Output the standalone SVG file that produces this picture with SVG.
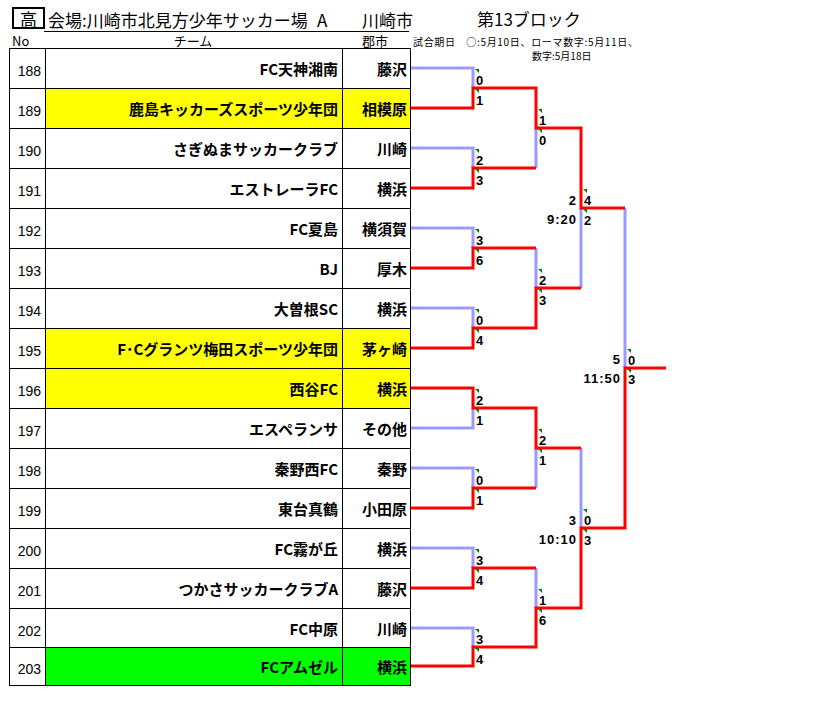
<svg xmlns="http://www.w3.org/2000/svg" xmlns:xlink="http://www.w3.org/1999/xlink" width="819" height="723" viewBox="0 0 819 723">
<style>
.jp{font-family:"Noto Sans CJK JP","Liberation Sans",sans-serif;fill:#000}
.hd{font-size:17px}
.sm{font-size:13px}
.tiny{font-size:10px}
.team{font-size:15px;font-weight:bold;text-anchor:end}
.no{font-family:"Liberation Sans",sans-serif;font-size:14px;text-anchor:end;fill:#000}
.sc{font-family:"Liberation Sans",sans-serif;font-size:13px;font-weight:bold;fill:#000}
.lb{font-family:"Liberation Sans",sans-serif;font-size:13px;font-weight:bold;text-anchor:end;letter-spacing:1px;fill:#000}
.r{stroke:#ff0000;stroke-width:3;fill:none}
.b{stroke:#9999ff;stroke-width:3;fill:none}
.g{stroke:#000;stroke-width:1;fill:none}
.y{fill:#ffff00}
.gr{fill:#00ff00}
.tri{fill:#008000}
</style>
<defs>
<polygon id="tri" points="0,0 4,0 4,4"/>
</defs>
<rect width="819" height="723" fill="#fff"/>

<g id="header">
<rect x="13" y="8" width="31" height="20" fill="none" stroke="#000" stroke-width="2"/>
<text class="jp hd" x="28.5" y="25.5" text-anchor="middle">高</text>
<text class="jp hd" x="48" y="26.5">会場:川崎市北見方少年サッカー場</text>
<text class="jp hd" x="317" y="26.5">A</text>
<text class="jp hd" x="362" y="26.5">川崎市</text>
<line x1="44" y1="31.5" x2="409" y2="31.5" stroke="#000" stroke-width="1"/>
<text class="jp hd" x="477" y="26">第13ブロック</text>
<text class="jp sm" x="12" y="46">No</text>
<text class="jp sm" x="193" y="46" text-anchor="middle">チーム</text>
<text class="jp sm" x="362" y="46">郡市</text>
<text class="jp tiny" x="413" y="45.5" textLength="225" lengthAdjust="spacing">試合期日　○:5月10日、ローマ数字:5月11日、</text>
<text class="jp tiny" x="532" y="59.5">数字:5月18日</text>
</g>

<g id="team-188"><text class="no" x="41" y="76">188</text><text class="jp team" x="338" y="75">FC天神湘南</text><text class="jp team" x="407" y="75">藤沢</text></g>
<g id="team-189"><rect class="y" x="45.5" y="88.5" width="365" height="40"/><text class="no" x="41" y="116">189</text><text class="jp team" x="338" y="115">鹿島キッカーズスポーツ少年団</text><text class="jp team" x="407" y="115">相模原</text></g>
<g id="team-190"><text class="no" x="41" y="156">190</text><text class="jp team" x="338" y="155">さぎぬまサッカークラブ</text><text class="jp team" x="407" y="155">川崎</text></g>
<g id="team-191"><text class="no" x="41" y="196">191</text><text class="jp team" x="338" y="195">エストレーラFC</text><text class="jp team" x="407" y="195">横浜</text></g>
<g id="team-192"><text class="no" x="41" y="236">192</text><text class="jp team" x="338" y="235">FC夏島</text><text class="jp team" x="407" y="235">横須賀</text></g>
<g id="team-193"><text class="no" x="41" y="276">193</text><text class="jp team" x="338" y="275">BJ</text><text class="jp team" x="407" y="275">厚木</text></g>
<g id="team-194"><text class="no" x="41" y="316">194</text><text class="jp team" x="338" y="315">大曽根SC</text><text class="jp team" x="407" y="315">横浜</text></g>
<g id="team-195"><rect class="y" x="45.5" y="328.5" width="365" height="40"/><text class="no" x="41" y="356">195</text><text class="jp team" x="338" y="355">F･Cグランツ梅田スポーツ少年団</text><text class="jp team" x="407" y="355">茅ヶ崎</text></g>
<g id="team-196"><rect class="y" x="45.5" y="368.5" width="365" height="40"/><text class="no" x="41" y="396">196</text><text class="jp team" x="338" y="395">西谷FC</text><text class="jp team" x="407" y="395">横浜</text></g>
<g id="team-197"><text class="no" x="41" y="436">197</text><text class="jp team" x="338" y="435">エスペランサ</text><text class="jp team" x="407" y="435">その他</text></g>
<g id="team-198"><text class="no" x="41" y="476">198</text><text class="jp team" x="338" y="475">秦野西FC</text><text class="jp team" x="407" y="475">秦野</text></g>
<g id="team-199"><text class="no" x="41" y="516">199</text><text class="jp team" x="338" y="515">東台真鶴</text><text class="jp team" x="407" y="515">小田原</text></g>
<g id="team-200"><text class="no" x="41" y="556">200</text><text class="jp team" x="338" y="555">FC霧が丘</text><text class="jp team" x="407" y="555">横浜</text></g>
<g id="team-201"><text class="no" x="41" y="596">201</text><text class="jp team" x="338" y="595">つかさサッカークラブA</text><text class="jp team" x="407" y="595">藤沢</text></g>
<g id="team-202"><text class="no" x="41" y="636">202</text><text class="jp team" x="338" y="635">FC中原</text><text class="jp team" x="407" y="635">川崎</text></g>
<g id="team-203"><rect class="gr" x="45.5" y="647.5" width="365" height="38"/><text class="no" x="41" y="674">203</text><text class="jp team" x="338" y="673">FCアムゼル</text><text class="jp team" x="407" y="673">横浜</text></g>

<g id="table-grid" class="g">
<rect x="9.5" y="48.5" width="401" height="637"/>
<path d="M45.5,48.5V685.5M342.5,48.5V685.5"/>
<path d="M9.5,88.5H410.5M9.5,128.5H410.5M9.5,168.5H410.5M9.5,208.5H410.5M9.5,248.5H410.5M9.5,288.5H410.5M9.5,328.5H410.5M9.5,368.5H410.5M9.5,408.5H410.5M9.5,448.5H410.5M9.5,488.5H410.5M9.5,528.5H410.5M9.5,568.5H410.5M9.5,608.5H410.5M9.5,647.5H410.5"/>
</g>

<g id="connectors">
<g id="losers" class="b">
<path d="M411,68H473V88"/>
<path d="M411,148H473V168"/>
<path d="M411,228H473V248"/>
<path d="M411,308H473V328"/>
<path d="M411,428H473V408"/>
<path d="M411,468H473V488"/>
<path d="M411,548H473V568"/>
<path d="M411,628H473V647"/>
<path d="M536,168V128"/>
<path d="M536,248V288"/>
<path d="M536,488V448"/>
<path d="M536,568V608"/>
<path d="M581,288V208"/>
<path d="M581,448V528"/>
<path d="M625,208V368"/>
</g>
<g id="winners" class="r">
<path d="M411,108H473V88H536V128H581V208H625"/>
<path d="M411,188H473V168H536"/>
<path d="M411,268H473V248H536"/>
<path d="M411,348H473V328H536V288H581"/>
<path d="M411,388H473V408H536V448H581"/>
<path d="M411,508H473V488H536"/>
<path d="M411,588H473V568H536"/>
<path d="M411,666H473V647H536V608H581V528H625V368H666"/>
</g>
<g id="markers" class="tri">
<use xlink:href="#tri" x="475" y="69"/><use xlink:href="#tri" x="475" y="89"/>
<use xlink:href="#tri" x="475" y="149"/><use xlink:href="#tri" x="475" y="169"/>
<use xlink:href="#tri" x="475" y="229"/><use xlink:href="#tri" x="475" y="249"/>
<use xlink:href="#tri" x="475" y="309"/><use xlink:href="#tri" x="475" y="329"/>
<use xlink:href="#tri" x="475" y="389"/><use xlink:href="#tri" x="475" y="409"/>
<use xlink:href="#tri" x="475" y="469"/><use xlink:href="#tri" x="475" y="489"/>
<use xlink:href="#tri" x="475" y="549"/><use xlink:href="#tri" x="475" y="569"/>
<use xlink:href="#tri" x="475" y="629"/><use xlink:href="#tri" x="475" y="648"/>
<use xlink:href="#tri" x="538" y="109"/><use xlink:href="#tri" x="538" y="129"/>
<use xlink:href="#tri" x="538" y="269"/><use xlink:href="#tri" x="538" y="289"/>
<use xlink:href="#tri" x="538" y="429"/><use xlink:href="#tri" x="538" y="449"/>
<use xlink:href="#tri" x="538" y="589"/><use xlink:href="#tri" x="538" y="609"/>
<use xlink:href="#tri" x="583" y="189"/><use xlink:href="#tri" x="583" y="209"/>
<use xlink:href="#tri" x="583" y="509"/><use xlink:href="#tri" x="583" y="529"/>
<use xlink:href="#tri" x="627" y="349"/><use xlink:href="#tri" x="627" y="369"/>
</g>
</g>

<g id="scores">
<text class="sc" x="476" y="85">0</text><text class="sc" x="476" y="104.5">1</text>
<text class="sc" x="476" y="165">2</text><text class="sc" x="476" y="184.5">3</text>
<text class="sc" x="476" y="245">3</text><text class="sc" x="476" y="264.5">6</text>
<text class="sc" x="476" y="325">0</text><text class="sc" x="476" y="344.5">4</text>
<text class="sc" x="476" y="405">2</text><text class="sc" x="476" y="424.5">1</text>
<text class="sc" x="476" y="485">0</text><text class="sc" x="476" y="504.5">1</text>
<text class="sc" x="476" y="565">3</text><text class="sc" x="476" y="584.5">4</text>
<text class="sc" x="476" y="644">3</text><text class="sc" x="476" y="663.5">4</text>
<text class="sc" x="539" y="125">1</text><text class="sc" x="539" y="144.5">0</text>
<text class="sc" x="539" y="285">2</text><text class="sc" x="539" y="304.5">3</text>
<text class="sc" x="539" y="445">2</text><text class="sc" x="539" y="464.5">1</text>
<text class="sc" x="539" y="605">1</text><text class="sc" x="539" y="624.5">6</text>
<text class="sc" x="584" y="205">4</text><text class="sc" x="584" y="224.5">2</text>
<text class="lb" x="577" y="205">2</text><text class="lb" x="577" y="224">9:20</text>
<text class="sc" x="584" y="525">0</text><text class="sc" x="584" y="544.5">3</text>
<text class="lb" x="577" y="525">3</text><text class="lb" x="577" y="544">10:10</text>
<text class="sc" x="628" y="364.5">0</text><text class="sc" x="628" y="384">3</text>
<text class="lb" x="621" y="364">5</text><text class="lb" x="621" y="383">11:50</text>
</g>
</svg>
